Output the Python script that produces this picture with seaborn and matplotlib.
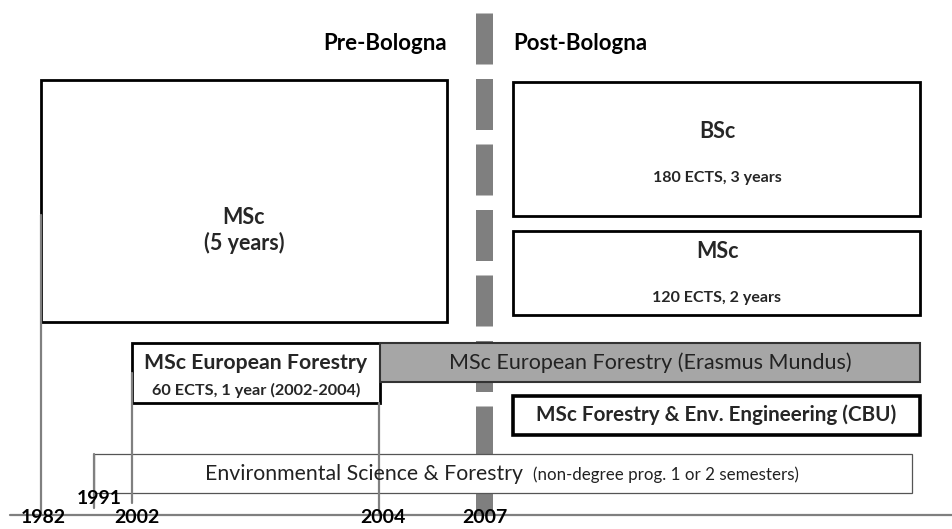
import numpy as np
import pandas as pd
import matplotlib
matplotlib.use("Agg")
import matplotlib.pyplot as plt
from matplotlib.patches import Rectangle
import seaborn as sns

# ---------------- data ----------------
years = [1982, 1991, 2002, 2004, 2007]
year_labels = ["1982", "1991", "2002", "2004", "2007"]
era_labels = ["Pre-Bologna", "Post-Bologna"]
programmes = ["MSc", "BSc", "MSc", "MSc European Forestry",
              "MSc European Forestry (Erasmus Mundus)",
              "MSc Forestry & Env. Engineering (CBU)",
              "Environmental Science & Forestry"]
programme_notes = ["(5 years)", "180 ECTS, 3 years", "120 ECTS, 2 years",
                   "60 ECTS, 1 year (2002-2004)", "", "",
                   "(non-degree prog. 1 or 2 semesters)"]

# ---------------- layout (pixel space) ----------------
W, H = 952, 529
year_x = {1982: 41, 1991: 94, 2002: 132, 2004: 379, 2007: 484}
base_y = 515
# boxes: x0, x1, y0(top), y1(bottom)
boxes = [
    (41, 447, 80, 322),     # MSc 5 years
    (513, 920, 82, 216),    # BSc
    (513, 920, 231, 315),   # MSc post
    (132, 380, 343, 403),   # MSc European Forestry
    (380, 920, 343, 382),   # Erasmus Mundus
    (513, 920, 396, 435),   # CBU
    (94, 912, 454, 493),    # Env Science
]

sns.set_theme(style="white")
plt.rcParams['font.family'] = ['Lato', 'DejaVu Sans']
plt.rcParams['lines.scale_dashes'] = False

fig = plt.figure(figsize=(W / 100, H / 100), dpi=100)
ax = fig.add_axes([0, 0, 1, 1])

px = 0.72  # points per pixel

# dashed Bologna divider at 2007
ax.plot([year_x[2007], year_x[2007]], [13, base_y], color="#7f7f7f",
        lw=17 * px, linestyle=(0, (51 * px, 14.5 * px)),
        dash_capstyle="butt", solid_capstyle="butt", zorder=1)

# timeline baseline
ax.plot([10, W], [base_y, base_y], color="#7f7f7f", lw=1.6, zorder=1)

# boxes
styles = [
    dict(fc="white", ec="black", lw=2.0),
    dict(fc="white", ec="black", lw=2.0),
    dict(fc="white", ec="black", lw=2.0),
    dict(fc="white", ec="black", lw=2.0),
    dict(fc="#a6a6a6", ec="#333333", lw=1.5),
    dict(fc="white", ec="black", lw=2.6),
    dict(fc="white", ec="#555555", lw=0.9),
]
for (x0, x1, y0, y1), st in zip(boxes, styles):
    ax.add_patch(Rectangle((x0, y0), x1 - x0, y1 - y0, zorder=2, **st))

# vertical year lines (drawn with seaborn)
vlines = pd.DataFrame({
    "x": [year_x[1982], year_x[1982], year_x[1991], year_x[1991],
          year_x[2002], year_x[2002], year_x[2004], year_x[2004]],
    "y": [215, base_y, 454, 508, 373, 503, 403, base_y],
    "yr": [1982, 1982, 1991, 1991, 2002, 2002, 2004, 2004],
})
sns.lineplot(data=vlines, x="x", y="y", units="yr", estimator=None,
             color="#808080", lw=1.6, sort=False, ax=ax, zorder=3,
             legend=False)
ax.set_xlim(0, W)
ax.set_ylim(H, 0)
ax.axis("off")

# year labels
label_pos = {1982: (43, 523), 1991: (99, 504), 2002: (137, 523),
             2004: (383, 523), 2007: (485, 523)}
for y, lab in zip(years, year_labels):
    x, yy = label_pos[y]
    ax.text(x, yy, lab, ha="center", va="baseline", fontsize=14,
            fontweight="bold", color="black", zorder=5)

# era labels
ax.text(385, 43, era_labels[0], ha="center", va="center", fontsize=16,
        fontweight="bold", color="black")
ax.text(580, 43, era_labels[1], ha="center", va="center", fontsize=16,
        fontweight="bold", color="black")

# programme texts
ax.text(244, 217, programmes[0], ha="center", va="center", fontsize=15.5,
        fontweight="bold", zorder=4)
ax.text(244, 243, programme_notes[0], ha="center", va="center", fontsize=15.5,
        fontweight="bold", zorder=4)

ax.text(717, 132, programmes[1], ha="center", va="center", fontsize=15.5,
        fontweight="bold", zorder=4)
ax.text(717, 178, programme_notes[1], ha="center", va="center", fontsize=11.5,
        fontweight="bold", zorder=4)

ax.text(717, 252, programmes[2], ha="center", va="center", fontsize=15.5,
        fontweight="bold", zorder=4)
ax.text(717, 298, programme_notes[2], ha="center", va="center", fontsize=11.5,
        fontweight="bold", zorder=4)

ax.text(256, 363, programmes[3], ha="center", va="center", fontsize=15.3,
        fontweight="bold", zorder=4)
ax.text(256, 390, programme_notes[3], ha="center", va="center", fontsize=11.7,
        fontweight="bold", zorder=4)

ax.text(650, 363, programmes[4], ha="center", va="center", fontsize=15.5,
        color="#222222", zorder=4)

ax.text(716, 415, programmes[5], ha="center", va="center", fontsize=14.9,
        fontweight="bold", zorder=4)

ax.text(205, 480, programmes[6], ha="left", va="baseline", fontsize=15.3,
        color="#222222", zorder=4)
ax.text(533, 480, programme_notes[6], ha="left", va="baseline", fontsize=12.2,
        color="#222222", zorder=4)

fig.savefig("out.png", dpi=100)
